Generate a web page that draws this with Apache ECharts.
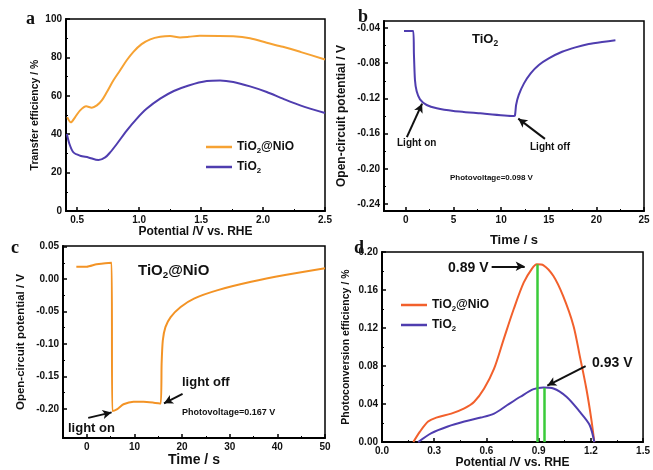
<!DOCTYPE html>
<html><head><meta charset="utf-8">
<script src="https://cdn.jsdelivr.net/npm/echarts@6/dist/echarts.min.js"></script>
<style>html,body{margin:0;padding:0;background:#fff}#c{width:653px;height:470px}</style>
</head><body><div id="c"></div>
<script>
// ---------- DATA ----------
// Panel a: transfer efficiency (%) vs potential (V vs RHE)
const aNiO = [[0.42,48.9],[0.449,46.2],[0.484,48.9],[0.524,52.4],[0.573,54.5],[0.618,53.8],[0.659,55],[0.699,57.6],[0.74,62],[0.793,68.1],[0.847,73.3],[0.90,78.5],[0.954,82.9],[1.02,86.9],[1.09,89.4],[1.17,90.7],[1.25,91.1],[1.33,90.4],[1.40,90.7],[1.49,91.3],[1.76,91],[1.895,90],[2.03,87.6],[2.16,85.5],[2.30,82.9],[2.5,78.9]];
const aTiO2 = [[0.417,40.1],[0.438,34.9],[0.47,30.5],[0.524,28.8],[0.591,27.9],[0.672,26.5],[0.726,27.9],[0.766,30.5],[0.82,34.9],[0.90,41.9],[0.98,48],[1.06,53.2],[1.17,58.5],[1.28,62.5],[1.40,65.4],[1.546,67.7],[1.653,68],[1.76,67.2],[1.895,64.9],[2.03,62],[2.16,58.5],[2.30,55],[2.5,51]];
// Panel b: OCP of TiO2 vs time
const bTiO2 = [[-0.2,-0.0434],[0.77,-0.0434],[0.84,-0.0688],[0.95,-0.099],[1.13,-0.112],[1.48,-0.121],[2.18,-0.1275],[3.24,-0.1313],[5.0,-0.1343],[7.8,-0.137],[11.3,-0.14],[11.45,-0.1395],[11.57,-0.1275],[11.85,-0.116],[12.4,-0.1029],[13.1,-0.0915],[13.96,-0.082],[15.0,-0.0745],[16.4,-0.067],[17.8,-0.062],[19.2,-0.0582],[20.6,-0.0559],[22.0,-0.054]];
// Panel c: OCP of TiO2@NiO vs time
const cNiO = [[-2.2,0.019],[0,0.019],[2.05,0.0228],[5.2,0.0253],[5.35,-0.2034],[6.3,-0.2008],[7.7,-0.193],[9.8,-0.189],[11.9,-0.189],[14.05,-0.1905],[15.5,-0.192],[15.7,-0.131],[15.95,-0.0947],[16.5,-0.074],[17.6,-0.0585],[19.7,-0.043],[22.5,-0.030],[27.5,-0.017],[34.5,-0.0042],[41.6,0.0062],[50,0.0166]];
// Panel d: photoconversion efficiency (%) vs potential
const dNiO = [[0.18,0],[0.218,0.011],[0.265,0.0216],[0.312,0.0258],[0.398,0.030],[0.473,0.0355],[0.53,0.0425],[0.587,0.0564],[0.644,0.0772],[0.70,0.1086],[0.757,0.14],[0.814,0.1677],[0.861,0.1823],[0.89,0.187],[0.928,0.186],[0.985,0.1747],[1.04,0.154],[1.10,0.1225],[1.136,0.091],[1.174,0.0564],[1.202,0.025],[1.22,0]];
const dTiO2 = [[0.208,0],[0.284,0.0094],[0.378,0.0164],[0.473,0.0216],[0.568,0.0258],[0.644,0.030],[0.72,0.039],[0.795,0.0477],[0.871,0.0557],[0.928,0.0574],[0.985,0.0564],[1.06,0.0477],[1.136,0.032],[1.193,0.018],[1.22,0]];
const dPeaks = [[0.89,0.187],[0.93,0.057]];
// Tick labels
const aXTicks = [0.5,1.0,1.5,2.0,2.5];
const aYTicks = [0,20,40,60,80,100];
const bXTicks = [0,5,10,15,20,25];
const bYTicks = [-0.04,-0.08,-0.12,-0.16,-0.20,-0.24];
const cXTicks = [0,10,20,30,40,50];
const cYTicks = [0.05,0.00,-0.05,-0.10,-0.15,-0.20];
const dXTicks = [0.0,0.3,0.6,0.9,1.2,1.5];
const dYTicks = [0.00,0.04,0.08,0.12,0.16,0.20];

// ---------- STYLE ----------
const FF = 'Liberation Sans, Arial, sans-serif';
const C_OR_A = '#F6A233', C_OR_C = '#F39325', C_OR_D = '#F2602C', C_PU = '#4F3DAF', C_GR = '#3ACB3A';
const mids = t => { const s=[...t].sort((a,b)=>a-b); const r=[]; for(let i=0;i<s.length-1;i++) r.push((s[i]+s[i+1])/2); return r; };

const grids = [
  {left:66, top:19, width:259, height:192},
  {left:384, top:21, width:260, height:190},
  {left:63, top:246, width:262, height:192},
  {left:382, top:252, width:265, height:192}
];
const panels = [
  {xr:[0.41,2.5], yr:[0,100], xt:aXTicks, yt:aYTicks, xf:v=>v.toFixed(1), yf:v=>String(v),
   xn:'Potential /V vs. RHE', yn:'Transfer efficiency / %', xg:14, yg:25, xs:12, ys:10.5},
  {xr:[-2.3,25], yr:[-0.248,-0.032], xt:bXTicks, yt:bYTicks, xf:v=>String(v), yf:v=>v.toFixed(2),
   xn:'Time / s', yn:'Open-circuit potential / V', xg:23, yg:36, xs:13, ys:12},
  {xr:[-5,50], yr:[-0.245,0.051], xt:cXTicks, yt:cYTicks, xf:v=>String(v), yf:v=>v.toFixed(2),
   xn:'Time / s', yn:'Open-circuit potential / V', xg:15, yg:36, xs:14, ys:11.5},
  {xr:[0,1.5], yr:[0,0.2], xt:dXTicks, yt:dYTicks, xf:v=>v.toFixed(1), yf:v=>v.toFixed(2),
   xn:'Potential /V vs. RHE', yn:'Photoconversion efficiency / %', xg:12, yg:30, xs:12, ys:10.5}
];

const xAxis = [], yAxis = [];
panels.forEach((p,i)=>{
  const lab = {show:true, fontFamily:FF, fontWeight:'bold', fontSize:10, color:'#111', margin:4};
  xAxis.push({type:'value', gridIndex:i, position:'bottom', min:p.xr[0], max:p.xr[1],
    splitLine:{show:false},
    axisLine:{show:true, onZero:false, lineStyle:{color:'#000', width:2}},
    axisTick:{show:true, inside:true, length:4, customValues:p.xt, lineStyle:{color:'#000', width:1.5}},
    axisLabel:Object.assign({}, lab, {customValues:p.xt, formatter:p.xf, showMinLabel:true, showMaxLabel:true}),
    name:p.xn, nameLocation:'middle', nameGap:p.xg,
    nameTextStyle:{fontFamily:FF, fontWeight:'bold', fontSize:p.xs, color:'#111'}});
  yAxis.push({type:'value', gridIndex:i, position:'left', min:p.yr[0], max:p.yr[1],
    splitLine:{show:false},
    axisLine:{show:true, onZero:false, lineStyle:{color:'#000', width:2}},
    axisTick:{show:true, inside:true, length:4, customValues:p.yt, lineStyle:{color:'#000', width:1.5}},
    axisLabel:Object.assign({}, lab, {customValues:p.yt, formatter:p.yf, showMinLabel:true, showMaxLabel:true}),
    name:p.yn, nameLocation:'middle', nameGap:p.yg, nameRotate:90,
    nameTextStyle:{fontFamily:FF, fontWeight:'bold', fontSize:p.ys, color:'#111'}});
});
// minor tick axes
panels.forEach((p,i)=>{
  xAxis.push({type:'value', gridIndex:i, position:'bottom', offset:0, min:p.xr[0], max:p.xr[1],
    splitLine:{show:false}, axisLine:{show:false, onZero:false}, axisLabel:{show:false},
    axisTick:{show:true, inside:true, length:2, customValues:mids(p.xt), lineStyle:{color:'#000', width:1}}});
  yAxis.push({type:'value', gridIndex:i, position:'left', offset:0, min:p.yr[0], max:p.yr[1],
    splitLine:{show:false}, axisLine:{show:false, onZero:false}, axisLabel:{show:false},
    axisTick:{show:true, inside:true, length:2, customValues:mids(p.yt), lineStyle:{color:'#000', width:1}}});
});

const arrow = (pairs) => ({silent:true, symbol:['none','arrow'], symbolSize:[7,9], animation:false,
  label:{show:false}, lineStyle:{color:'#111', width:2, type:'solid'},
  data: pairs.map(pp=>[{coord:pp[0]},{coord:pp[1]}])});

const lineS = (name, data, xi, color, extra) => Object.assign({
  type:'line', name, data, xAxisIndex:xi, yAxisIndex:xi, showSymbol:false, symbol:'none',
  smooth:0.3, lineStyle:{color, width:2}, itemStyle:{color}, z:3}, extra||{});

const series = [
  lineS('TiO2@NiO', aNiO, 0, C_OR_A),
  lineS('TiO2', aTiO2, 0, C_PU),
  lineS('bTiO2', bTiO2, 1, C_PU, {smooth:0.2,
    markLine: arrow([[[0.1,-0.164],[1.7,-0.126]], [[14.6,-0.166],[11.8,-0.143]]])}),
  lineS('cNiO', cNiO, 2, C_OR_C, {smooth:0.2,
    markLine: arrow([[[0.3,-0.214],[5.2,-0.2055]], [[20.1,-0.177],[16.2,-0.1915]]])}),
  lineS('TiO2@NiO (d)', dNiO, 3, C_OR_D, {z:4,
    markLine: arrow([[[0.63,0.185],[0.82,0.185]], [[1.17,0.080],[0.95,0.0595]]])}),
  lineS('TiO2 (d)', dTiO2, 3, C_PU, {z:4,
    markLine: {silent:true, symbol:['none','none'], animation:false, label:{show:false},
      lineStyle:{color:C_GR, width:2.5, type:'solid'},
      data: dPeaks.map(pk=>[{coord:[pk[0],0]},{coord:[pk[0],pk[1]]}])}})
];

const subRich = (fs) => ({
  sub:{fontSize:fs*0.65, fontWeight:'bold', fontFamily:FF, verticalAlign:'bottom', lineHeight:fs+4, color:'#111'},
  n:{fontSize:fs, fontWeight:'bold', fontFamily:FF, lineHeight:fs+4, color:'#111'}
});
const legFmt = name => name.indexOf('@')>=0 ? '{n|TiO}{sub|2}{n|@NiO}' : '{n|TiO}{sub|2}';

const legendBase = (left, top, data) => ({left, top, orient:'vertical', icon:'rect', itemWidth:26, itemHeight:2.5,
  itemGap:6, selectedMode:false, data, formatter:legFmt,
  textStyle:{fontFamily:FF, fontWeight:'bold', fontSize:12, color:'#111', rich:subRich(12)}});

const T = (text, x, y, fs, extra) => ({type:'text', x, y, silent:true, z:10,
  style:Object.assign({text, fill:'#111', font:`bold ${fs}px ${FF}`, textVerticalAlign:'middle'}, extra||{})});
const TR = (text, x, y, fs) => ({type:'text', x, y, silent:true, z:10,
  style:{text, fill:'#111', font:`bold ${fs}px ${FF}`, textVerticalAlign:'middle', rich:subRich(fs)}});
const SER = 'Liberation Serif, Times New Roman, serif';

const option = {
  animation:false,
  backgroundColor:'#fff',
  grid: grids.map(g=>Object.assign({show:true, borderColor:'#000', borderWidth:1.5, backgroundColor:'transparent'}, g)),
  xAxis, yAxis, series,
  legend:[legendBase(201, 136, ['TiO2@NiO','TiO2']), legendBase(396, 294, ['TiO2@NiO (d)','TiO2 (d)'])],
  graphic:[
    T('a', 26, 19, 18, {font:`bold 18px ${SER}`}),
    T('b', 358, 17, 18, {font:`bold 18px ${SER}`}),
    T('c', 11, 248, 18, {font:`bold 18px ${SER}`}),
    T('d', 354, 248, 18, {font:`bold 18px ${SER}`}),
    TR('{n|TiO}{sub|2}', 472, 39, 13),
    T('Light on', 397, 143, 10),
    T('Light off', 530, 147, 10),
    T('Photovoltage=0.098 V', 450, 178, 8),
    TR('{n|TiO}{sub|2}{n|@NiO}', 138, 271, 15),
    T('light off', 182, 382, 13),
    T('light on', 68, 428, 13),
    T('Photovoltage=0.167 V', 182, 413, 9),
    T('0.89 V', 448, 268, 14),
    T('0.93 V', 592, 363, 14)
  ]
};
const chart = echarts.init(document.getElementById('c'), null, {renderer:'canvas'});
chart.setOption(option);
</script></body></html>
